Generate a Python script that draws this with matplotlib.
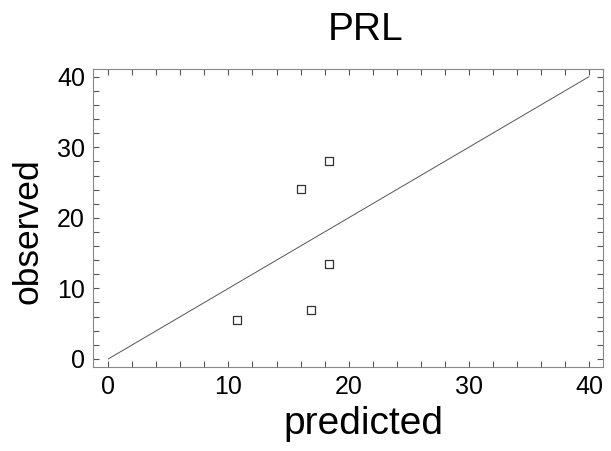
import matplotlib.pyplot as plt
from matplotlib.ticker import MultipleLocator

# Wartosci
predicted = [10.7, 16.9, 16.0, 18.4, 18.4]
observed = [5.5, 7.0, 24.1, 28.1, 13.5]
line_x = [0, 40]
line_y = [0, 40]
ticks = [0, 10, 20, 30, 40]

plt.rcParams['font.family'] = ['Liberation Sans', 'DejaVu Sans']

fig = plt.figure(figsize=(6.11, 4.51), dpi=100)
ax = fig.add_axes([0.1527, 0.187, 0.8347, 0.66])

ax.plot(line_x, line_y, color='#555555', linewidth=0.7)
ax.scatter(predicted, observed, marker='s', s=36, facecolors='white',
           edgecolors='#333333', linewidths=0.9, zorder=3)

ax.set_xlim(-1.25, 41.2)
ax.set_ylim(-1.1, 41.1)
ax.set_xticks(ticks)
ax.set_yticks(ticks)
ax.xaxis.set_minor_locator(MultipleLocator(2))
ax.yaxis.set_minor_locator(MultipleLocator(2))
ax.tick_params(which='both', direction='in', top=True, right=True,
               length=4, width=0.8, color='#555555', labelsize=18, pad=6)

for s in ax.spines.values():
    s.set_color('#888888')
    s.set_linewidth(0.8)

ax.set_xlabel('predicted', fontsize=28, labelpad=5)
ax.set_ylabel('observed', fontsize=25.5, labelpad=9)
ax.set_title('PRL', fontsize=28, pad=21)

# przesuniecie etykiet jak na oryginale
ax.xaxis.label.set_x(0.53)
ax.yaxis.label.set_y(0.455)
ax.title.set_x(0.534)

fig.savefig('out.png', dpi=100)
